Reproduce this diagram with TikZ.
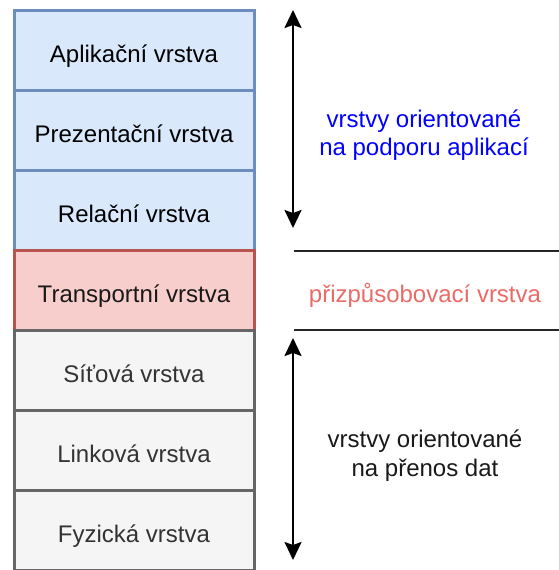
\documentclass[tikz,border=0pt]{standalone}
\usepackage{fontspec}
\setmainfont{Liberation Sans}
\usetikzlibrary{arrows.meta}

\definecolor{blueFill}{HTML}{DAE8FC}
\definecolor{blueLine}{HTML}{6C8EBF}
\definecolor{redFill}{HTML}{F8CECC}
\definecolor{redLine}{HTML}{B85450}
\definecolor{greyFill}{HTML}{F5F5F5}
\definecolor{greyLine}{HTML}{666666}
\definecolor{greyText}{HTML}{333333}
\definecolor{adaptText}{HTML}{EA6B66}
\definecolor{appText}{HTML}{0000FF}

\tikzset{
  layer/.style={draw, line width=3pt, minimum width=240pt, minimum height=80pt,
    inner sep=0pt, text height=23pt, text depth=0pt,
    font=\fontsize{24}{28}\selectfont},
  upperlayer/.style={layer, fill=blueFill, draw=blueLine, text=black},
  midlayer/.style={layer, fill=redFill, draw=redLine, text=black!90},
  lowerlayer/.style={layer, fill=greyFill, draw=greyLine, text=greyText},
  sidelabel/.style={align=center, font=\fontsize{24}{28.5}\selectfont},
  span/.style={line width=2.2pt, {Stealth[length=18pt,width=17pt,inset=3pt]}-{Stealth[length=18pt,width=17pt,inset=3pt]}},
  divider/.style={line width=2pt, draw=black!85}
}

\begin{document}
\begin{tikzpicture}[x=1pt, y=-1pt]
  \useasboundingbox (0,0) rectangle (559,570);

  % layer stack
  \node[upperlayer] (app)   at (134, 50.5)  {Aplikační vrstva};
  \node[upperlayer] (pres)  at (134, 130.5) {Prezentační vrstva};
  \node[upperlayer] (sess)  at (134, 210.5) {Relační vrstva};
  \node[midlayer]   (trans) at (134, 290.5) {Transportní vrstva};
  \node[lowerlayer] (net)   at (134, 370.5) {Síťová vrstva};
  \node[lowerlayer] (link)  at (134, 450.5) {Linková vrstva};
  \node[lowerlayer] (phys)  at (134, 530.5) {Fyzická vrstva};

  % brackets for the groups
  \coordinate (upTop) at (293, 10);
  \coordinate (upBot) at (293, 228);
  \coordinate (loTop) at (293, 338);
  \coordinate (loBot) at (293, 560);
  \draw[span] (upTop) -- (upBot);
  \draw[span] (loTop) -- (loBot);

  % dividers around the transport layer
  \coordinate (d1a) at (294, 251);
  \coordinate (d1b) at (559, 251);
  \coordinate (d2a) at (294, 330);
  \coordinate (d2b) at (559, 330);
  \draw[divider] (d1a) -- (d1b);
  \draw[divider] (d2a) -- (d2b);

  % group labels
  \node[sidelabel, text=appText]   (appLbl)   at (424, 135) {vrstvy orientované\\na podporu aplikací};
  \node[sidelabel, text=adaptText] (adaptLbl) at (425, 295) {přizpůsobovací vrstva};
  \node[sidelabel, text=black!90]  (dataLbl)  at (425, 455.5) {vrstvy orientované\\na přenos dat};
\end{tikzpicture}
\end{document}
